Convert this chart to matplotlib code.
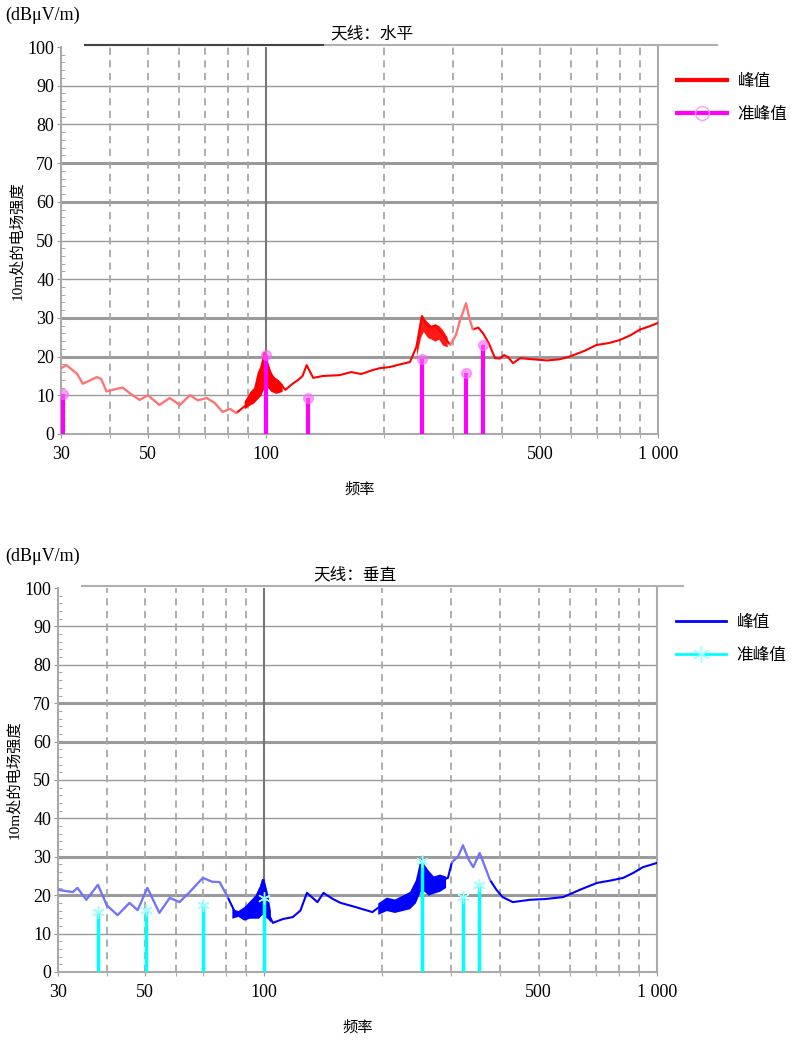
import numpy as np
import matplotlib
matplotlib.use('Agg')
import matplotlib.pyplot as plt
from matplotlib.lines import Line2D
from matplotlib.ticker import FixedLocator, NullFormatter

plt.rcParams['font.family'] = ['Liberation Serif', 'Noto Sans CJK SC', 'DejaVu Sans']

# ---- horizontal antenna (top) ----
h_freq = [30, 31, 33, 34.1, 35.5, 37, 38, 39.2, 41, 43.1, 45, 47.6, 50, 53.5, 56.8, 60.3,
          64, 67, 70.6, 74, 77.5, 81, 84, 89, 92, 95, 99, 102, 104, 108, 112, 117, 121,
          124, 127, 132, 140, 154, 165, 175, 187, 195, 207, 220, 233, 242, 250, 256,
          262, 270, 278, 286, 295, 305, 313, 324, 330, 337, 348, 358, 370, 384, 395,
          405, 415, 427, 445, 480, 521, 560, 595, 650, 697, 750, 800, 850, 900, 950, 1000]
h_peak = [17, 17.8, 15.5, 13, 13.8, 14.7, 14.2, 11, 11.5, 12, 10.5, 8.8, 10, 7.5, 9.3, 7.5,
          10, 8.7, 9.3, 8, 5.7, 6.5, 5.4, 7.5, 9, 11.4, 21, 16.5, 14.7, 13.5, 11.4, 13, 14,
          15, 17.8, 14.5, 15, 15.2, 16, 15.5, 16.5, 17, 17.3, 18, 18.6, 22.5, 30.5, 28.5,
          27.6, 28, 26.5, 25, 23, 25.5, 29.5, 33.8, 30, 27, 27.5, 26, 23.5, 19.6, 19.5,
          20.4, 19.8, 18.3, 19.6, 19.3, 19, 19.3, 20, 21.5, 23, 23.5, 24.3, 25.5, 27, 27.8, 28.7]
h_band_f = [88, 91, 93, 95, 97, 99, 101, 103, 106, 110]
h_band_lo = [6.5, 7.5, 8, 9, 10, 12, 12, 11, 10.5, 11]
h_band_hi = [8.5, 11, 12, 16, 18, 21, 18.5, 16, 14, 13]
h_band2_f = [242, 248, 252, 258, 264, 270, 276, 282, 290]
h_band2_lo = [20, 25, 26.5, 25, 24.5, 24, 24.5, 23, 22.5]
h_band2_hi = [24, 30.5, 30, 29, 28, 28.5, 28, 27, 25]
h_qp_f = [30.3, 100, 128, 250, 324, 357]
h_qp = [10.3, 20.4, 9.3, 19.4, 15.7, 23]

# ---- vertical antenna (bottom) ----
v_freq = [30, 32.7, 33.6, 35.4, 37.9, 39.9, 42.5, 45.6, 47.8, 50.6, 54.3, 57.7, 61.1,
          64.8, 70, 74, 77.3, 81, 84.5, 88, 90.5, 94, 97, 99.5, 101, 103, 105.5, 112,
          118.6, 124, 128.8, 137, 141.9, 150, 156.8, 170, 189, 197, 209, 222, 235, 244,
          252, 258, 265, 275, 285, 294, 301, 312, 321, 331, 341, 354, 365, 376, 390,
          405, 430, 475, 520, 577, 640, 704, 760, 820, 870, 921, 1000]
v_peak = [21.4, 20.8, 21.9, 18.8, 22.7, 17.4, 14.8, 18, 16.1, 21.9, 15.4, 19.3, 18.2,
          20.8, 24.5, 23.5, 23.4, 19.5, 15.6, 15.6, 15.8, 17, 20, 24, 19, 15, 12.8, 13.8,
          14.3, 16, 20.6, 18.2, 20.6, 19, 18, 17, 15.6, 17, 18.2, 17.5, 18, 20,
          29.2, 25, 23.4, 22.5, 24, 24.5, 28.6, 30, 33, 29.5, 27.3, 31, 27.5, 24, 21.5,
          19.5, 18.2, 18.8, 19, 19.5, 21.5, 23.2, 23.8, 24.5, 25.8, 27.3, 28.4]
v_band_f = [83, 86, 89, 92, 95, 97, 99, 100, 102, 104]
v_band_lo = [14, 14.5, 13.5, 14, 14, 14, 15, 14.5, 14, 13]
v_band_hi = [16.5, 16, 17, 18.5, 20, 22, 23, 24.5, 21, 16]
v_band2_f = [195, 205, 215, 225, 235, 243, 250, 256, 262, 270, 280, 290]
v_band2_lo = [15, 16, 15.5, 16, 16.5, 18, 21, 21, 20, 20.5, 21, 22]
v_band2_hi = [18, 19.5, 19, 20, 21, 24, 29.5, 28, 26.5, 25, 25.5, 25]
v_qp_f = [37.9, 50.3, 70, 100, 253, 321, 352]
v_qp = [15.6, 16.1, 17.4, 19.3, 29, 19.5, 22.7]

fig = plt.figure(figsize=(7.96, 10.4), dpi=100)
ax1 = fig.add_axes([0.0766, 0.5827, 0.75, 0.3721])
ax2 = fig.add_axes([0.0729, 0.0654, 0.7525, 0.3692])

minor_x = [40, 60, 70, 80, 90, 200, 300, 400, 600, 700, 800, 900]
dashed_x = [40, 50, 60, 70, 80, 90, 200, 300, 400, 500, 600, 700, 800, 900]


def setup(ax, deco_end, dark_end):
    ax.set_xscale('log')
    ax.set_xlim(30, 1000)
    ax.set_ylim(0, 100)
    for y in range(10, 100, 10):
        lw = 2.2 if y in (20, 30, 60, 70) else 1.0
        ax.axhline(y, color='#9a9a9a', lw=lw, zorder=1)
    for x in dashed_x:
        ax.axvline(x, color='#a8a8a8', lw=1.3, ls=(0, (4, 3)), zorder=1)
    ax.axvline(100, color='#777777', lw=1.5, zorder=1)
    ax.set_xticks([30, 50, 100, 500, 1000])
    ax.set_xticklabels(['30', '50', '100', '500', '1 000'])
    ax.xaxis.set_minor_locator(FixedLocator(minor_x))
    ax.xaxis.set_minor_formatter(NullFormatter())
    ax.set_yticks(range(0, 101, 10))
    ax.set_yticks(range(0, 101, 2), minor=True)
    ax.tick_params(axis='both', which='major', labelsize=13, length=3, color='#999999', pad=2)
    ax.tick_params(axis='y', which='minor', length=3, color='#999999', direction='in')
    ax.tick_params(axis='x', which='minor', length=3, color='#999999')
    ax.tick_params(axis='x', which='major', pad=6)
    for s in ax.spines.values():
        s.set_color('#aaaaaa')
        s.set_linewidth(1.5)
    ax.spines['top'].set_visible(False)
    ax.plot([0.04, deco_end], [1.006, 1.006], color='#b0b0b0', lw=1.5,
            transform=ax.transAxes, clip_on=False)
    if dark_end:
        ax.plot([0.04, dark_end], [1.006, 1.006], color='#444444', lw=1.5,
                transform=ax.transAxes, clip_on=False)
    ax.set_ylabel('10m处的电场强度', fontsize=11, labelpad=2)
    ax.set_xlabel('频率', fontsize=11, labelpad=14)


def peak_line(ax, f, p, color, pale):
    # pale = list of (f0, f1) ranges drawn lighter, like the reference
    f = np.array(f)
    p = np.array(p)
    ax.plot(f, p, color=color, lw=1.5, zorder=3)
    for f0, f1 in pale:
        m = (f >= f0) & (f <= f1)
        ax.plot(f[m], p[m], color='white', lw=1.6, alpha=0.45, zorder=3.1)


setup(ax1, 1.099, 0.439)
ax1.text(0.52, 1.012, '天线：水平', transform=ax1.transAxes, ha='center', va='bottom', fontsize=12)
ax1.fill_between(h_band_f, h_band_lo, h_band_hi, color='red', lw=0, zorder=3)
ax1.fill_between(h_band2_f, h_band2_lo, h_band2_hi, color='red', lw=0, alpha=0.9, zorder=3)
peak_line(ax1, h_freq, h_peak, 'red', [(30, 86), (295, 345)])
ax1.vlines(h_qp_f, 0, h_qp, color='#ff00ff', lw=3, zorder=4)
ax1.plot(h_qp_f, h_qp, 'o', color='#ff66ff', ms=7, alpha=0.6, zorder=4)
hd1 = [Line2D([], [], color='red', lw=3),
       Line2D([], [], color='#ff00ff', lw=3, marker='o', ms=10, mfc='none', mec='#ff99ff')]
ax1.legend(hd1, ['峰值', '准峰值'], loc='upper left', bbox_to_anchor=(1.013, 0.96),
           frameon=False, fontsize=12, handlelength=3.0, handletextpad=0.6,
           labelspacing=1.0, borderaxespad=0.3)

setup(ax2, 1.043, None)
ax2.text(0.496, 1.012, '天线：垂直', transform=ax2.transAxes, ha='center', va='bottom', fontsize=12)
ax2.fill_between(v_band_f, v_band_lo, v_band_hi, color='blue', lw=0, zorder=3)
ax2.fill_between(v_band2_f, v_band2_lo, v_band2_hi, color='blue', lw=0, zorder=3)
peak_line(ax2, v_freq, v_peak, 'blue', [(30, 82), (295, 380)])
ax2.vlines(v_qp_f, 0, v_qp, color='cyan', lw=2.5, zorder=4)
ax2.plot(v_qp_f, v_qp, marker=(6, 2, 0), ls='none', color='#99ffff', ms=9, zorder=4)
hd2 = [Line2D([], [], color='blue', lw=2),
       Line2D([], [], color='cyan', lw=2, marker=(6, 2, 0), ms=12, mec='#99ffff')]
ax2.legend(hd2, ['峰值', '准峰值'], loc='upper left', bbox_to_anchor=(1.013, 0.96),
           frameon=False, fontsize=12, handlelength=3.0, handletextpad=0.6,
           labelspacing=1.0, borderaxespad=0.3)

fig.text(0.006, 1 - 15 / 1040, '(dBμV/m)', fontsize=13, va='center')
fig.text(0.006, 1 - 556 / 1040, '(dBμV/m)', fontsize=13, va='center')

fig.savefig('out.png', dpi=100)
